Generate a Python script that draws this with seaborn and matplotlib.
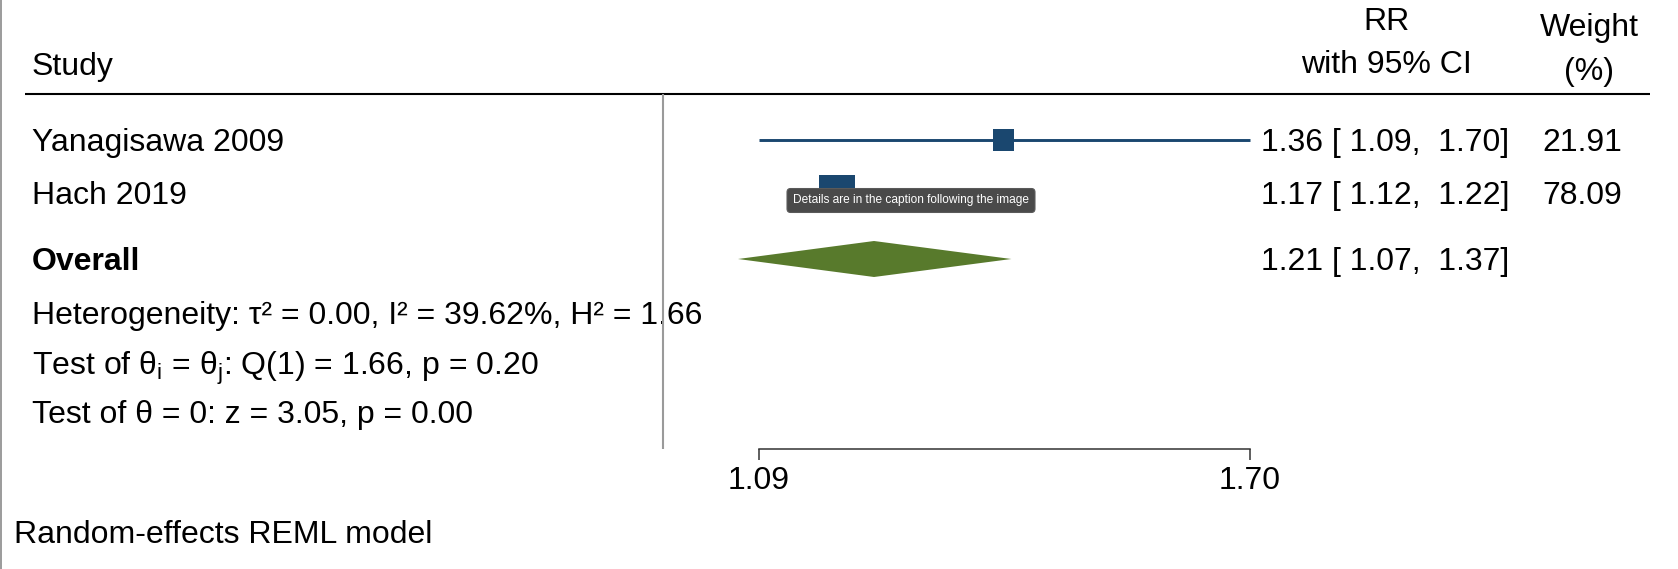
import matplotlib
matplotlib.use("Agg")
import numpy as np
import seaborn as sns
import matplotlib.pyplot as plt
from matplotlib.ticker import NullLocator, FixedLocator, FixedFormatter

# --- data ---
studies = ["Yanagisawa 2009", "Hach 2019"]
rr = [1.36, 1.17]
ci_lo = [1.09, 1.12]
ci_hi = [1.70, 1.22]
weights = [21.91, 78.09]
overall_rr, overall_lo, overall_hi = 1.21, 1.07, 1.37
axis_ticks = [1.09, 1.70]
axis_labels = ["1.09", "1.70"]
het_text = "Heterogeneity: τ² = 0.00, I² = 39.62%, H² = 1.66"
q_text = "Test of θ$_\\mathregular{i}$ = θ$_\\mathregular{j}$: Q(1) = 1.66, p = 0.20"
z_text = "Test of θ = 0: z = 3.05, p = 0.00"
model_text = "Random-effects REML model"

sns.set_theme(style="white")
plt.rcParams['font.family'] = ['Liberation Sans', 'DejaVu Sans']
plt.rcParams['mathtext.fontset'] = 'custom'
plt.rcParams['mathtext.rm'] = 'Liberation Sans'
plt.rcParams['mathtext.it'] = 'Liberation Sans:italic'
plt.rcParams['text.color'] = 'black'

W, H = 1678, 569
NAVY = "#1a476f"
GREEN = "#587a2c"
FS = 23

fig = plt.figure(figsize=(W / 100, H / 100), dpi=100)

# text layer, pixel coordinates (y downwards)
ax = fig.add_axes([0, 0, 1, 1])
ax.set_xlim(0, W)
ax.set_ylim(H, 0)
ax.axis("off")

# forest panel on a log scale
X0, X1 = 758.5, 1250
fax = fig.add_axes([X0 / W, 0, (X1 - X0) / W, 1])
fax.patch.set_alpha(0)

# row layout (pixel centres)
study_y = [140, 193]
overall_y = 259
het_y, q_y, z_y, model_y = 313, 364, 412, 532
rule_y, axis_y = 94, 449
base = 11  # centre -> baseline offset

# CI lines
fax.hlines(study_y, ci_lo, ci_hi, color=NAVY, lw=2.1, clip_on=False, zorder=2)
# weighted squares
sns.scatterplot(x=rr, y=study_y, size=weights, sizes=(235, 690),
                size_norm=(min(weights), max(weights)), marker="s", color=NAVY,
                edgecolor="none", linewidth=0, legend=False, ax=fax, zorder=3,
                clip_on=False)
# overall diamond
fax.fill([overall_lo, overall_rr, overall_hi, overall_rr],
         [overall_y, overall_y - 18, overall_y, overall_y + 18],
         color=GREEN, lw=0, clip_on=False, zorder=3)
# null line
nl = fax.vlines(1.0, rule_y, axis_y, color="#9a9a9a", lw=1.5, zorder=1)
nl.set_clip_on(False)

fax.set_xscale("log")
fax.set_xlim(axis_ticks[0], axis_ticks[-1])
fax.set_ylim(H, 0)
fax.set_xlabel("")
fax.set_ylabel("")
fax.set_yticks([])
fax.xaxis.set_major_locator(FixedLocator(axis_ticks))
fax.xaxis.set_major_formatter(FixedFormatter(axis_labels))
fax.xaxis.set_minor_locator(NullLocator())
for s in ["top", "right", "left"]:
    fax.spines[s].set_visible(False)
fax.spines["bottom"].set_position(("data", axis_y))
fax.spines["bottom"].set_color("#333333")
fax.spines["bottom"].set_linewidth(1.1)
fax.tick_params(axis="x", bottom=True, direction="out", length=8, width=1.1,
                color="#333333", labelsize=FS, labelcolor="black", pad=4)

# header
ax.text(32, 75, "Study", fontsize=FS, va="baseline", ha="left")
ax.text(1386, 30, "RR", fontsize=FS, va="baseline", ha="center")
ax.text(1386, 73, "with 95% CI", fontsize=FS, va="baseline", ha="center")
ax.text(1589, 36, "Weight", fontsize=FS, va="baseline", ha="center")
ax.text(1589, 80, "(%)", fontsize=FS, va="baseline", ha="center")
ax.plot([25, 1650], [rule_y, rule_y], color="black", lw=1.5, solid_capstyle="butt")
# left frame edge
ax.plot([0.8, 0.8], [0, H], color="#8a8a8a", lw=1.2)

# study rows
for name, e, l, h, w, y in zip(studies, rr, ci_lo, ci_hi, weights, study_y):
    ax.text(32, y + base, name, fontsize=FS, va="baseline", ha="left")
    ax.text(1385, y + base, f"{e:4.2f} [{l:5.2f}, {h:5.2f}]", fontsize=FS,
            va="baseline", ha="center")
    ax.text(1622, y + base, f"{w:.2f}", fontsize=FS, va="baseline", ha="right")

ax.text(32, overall_y + base, "Overall", fontsize=FS, fontweight="bold",
        va="baseline", ha="left")
ax.text(1385, overall_y + base,
        f"{overall_rr:4.2f} [{overall_lo:5.2f}, {overall_hi:5.2f}]",
        fontsize=FS, va="baseline", ha="center")

ax.text(32, het_y + base, het_text, fontsize=FS, va="baseline", ha="left")
ax.text(32, q_y + base, q_text, fontsize=FS, va="baseline", ha="left")
ax.text(32, z_y + base, z_text, fontsize=FS, va="baseline", ha="left")
ax.text(14, model_y + base, model_text, fontsize=FS, va="baseline", ha="left")

# screenshot tooltip overlay
fig.text(793 / W, 1 - 200.5 / H, "Details are in the caption following the image",
         fontsize=8.6, color="white", va="center", ha="left", zorder=10,
         bbox=dict(boxstyle="round,pad=0.5,rounding_size=0.3", fc="#4a4a4a",
                   ec="#5a5a5a", lw=0.8))

fig.savefig("out.png", dpi=100)
